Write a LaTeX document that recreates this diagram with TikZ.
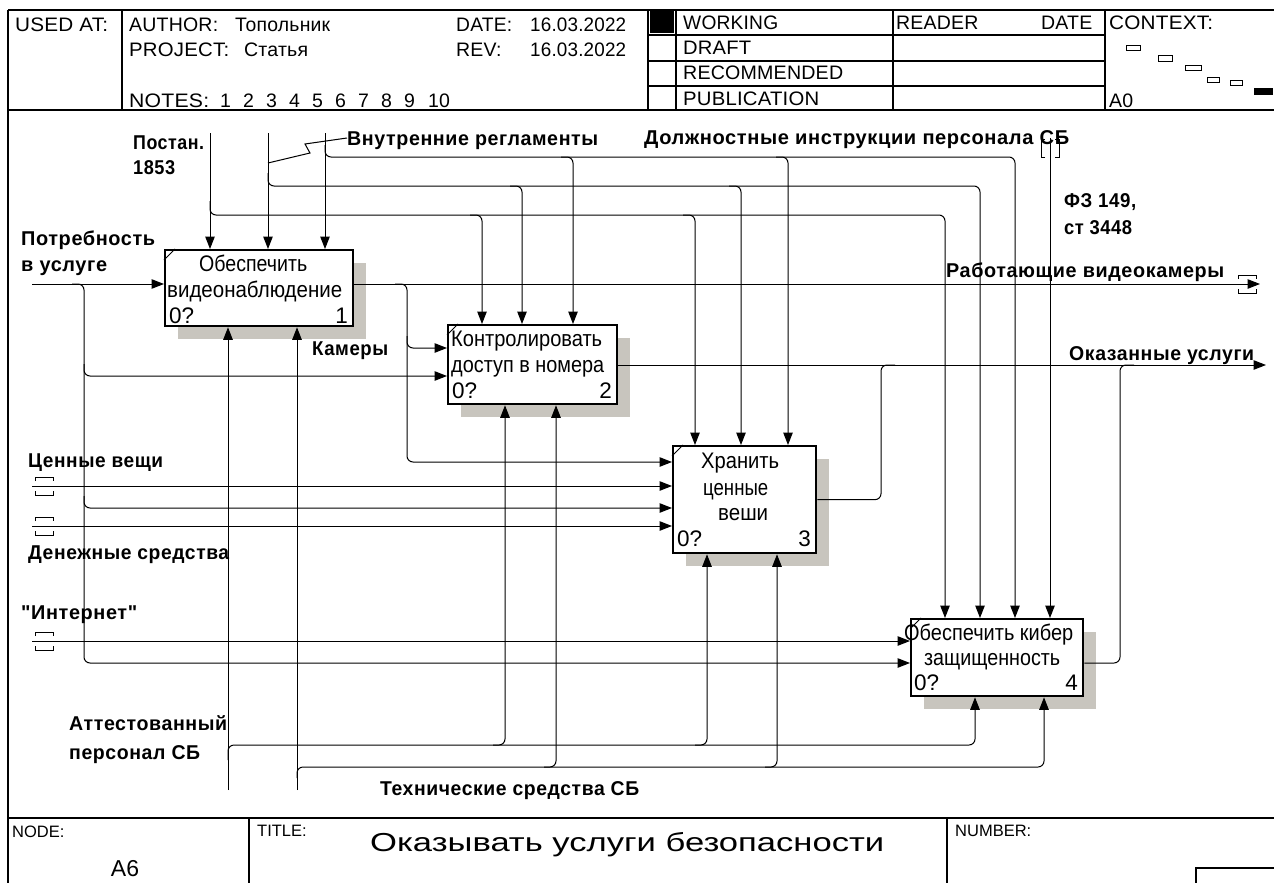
\documentclass[tikz,border=0pt]{standalone}
\usepackage{fontspec}
\usepackage{graphicx}
\setmainfont{Liberation Sans}
\newfontfamily\lblf{Liberation Sans}[LetterSpace=3]
\newfontfamily\hdrf{Liberation Sans}[LetterSpace=1]
\usetikzlibrary{arrows.meta,calc,shadows}
\definecolor{shadc}{RGB}{200,197,190}
\newcommand\fw[2]{\resizebox{#1pt}{\height}{#2}}
\begin{document}
\begin{tikzpicture}[x=1pt,y=-1pt,
 lab/.style={font=\lblf\bfseries\fontsize{20}{22}\selectfont, anchor=west, inner sep=0pt, text height=14.3pt, text depth=0pt},
 btx/.style={font=\fontsize{22.5}{24}\selectfont, anchor=west, inner sep=0pt, text height=16pt, text depth=0pt},
 hdt/.style={font=\hdrf\fontsize{19.5}{21}\selectfont, anchor=west, inner sep=0pt, text height=14pt, text depth=0pt},
 ftx/.style={font=\fontsize{16.5}{18}\selectfont, anchor=west, inner sep=0pt, text height=11.8pt, text depth=0pt},
 arr/.style={line width=1pt, rounded corners=6pt, -{Triangle[length=12.5pt,width=9.5pt]}},
 ln/.style={line width=1pt, rounded corners=6pt},
 fbox/.style={draw, line width=2.3pt, fill=white, anchor=north west, inner sep=0pt,
   drop shadow={shadow xshift=13pt, shadow yshift=-13pt, fill=shadc, opacity=1}},
 frm/.style={line width=1.3pt},
 tun/.pic={\draw[line width=1pt] (-9,-5) -- (-9,-9) -- (9,-9) -- (9,-5);
           \draw[line width=1pt] (-9,5) -- (-9,9) -- (9,9) -- (9,5);}
]
\useasboundingbox (0,0) rectangle (1274,883);

% ---------------- header ----------------
\draw[frm] (8,10) -- (1274,10);
\draw[frm] (8,10) -- (8,883);
\draw[frm] (8,110) -- (1274,110);
\draw[frm] (122,10) -- (122,110);
\draw[frm] (648,10) -- (648,110);
\draw[frm] (676,10) -- (676,110);
\draw[frm] (893,10) -- (893,110);
\draw[frm] (1105,10) -- (1105,110);
\draw[frm] (648,35) -- (1105,35);
\draw[frm] (648,61) -- (1105,61);
\draw[frm] (648,86) -- (1105,86);
\fill (650,10) rectangle (674,33);

\node[hdt] (usedat) at (15,25) {\fw{93}{USED AT:}};
\node[hdt] (author) at (129,25) {\fw{89}{AUTHOR:}};
\node[hdt] (authorv) at (235,25) {\fw{95}{Топольник}};
\node[hdt] (project) at (129,50) {\fw{100}{PROJECT:}};
\node[hdt] (projectv) at (244,50) {\fw{64}{Статья}};
\node[hdt] (date) at (456,25) {\fw{56}{DATE:}};
\node[hdt] (datev) at (530,25) {\fw{96}{16.03.2022}};
\node[hdt] (rev) at (456,50) {REV:};
\node[hdt] (revv) at (530,50) {\fw{96}{16.03.2022}};
\node[hdt] (notes) at (129,100) {\fw{80}{NOTES:}};
\foreach \n/\xx in {1/220,2/243,3/266,4/289,5/312,6/335,7/358,8/381,9/404,10/428}
  \node[hdt] (note\n) at (\xx,100) {\n};
\node[hdt] (working) at (683,23) {\fw{95}{WORKING}};
\node[hdt] (draft) at (683,48) {\fw{68}{DRAFT}};
\node[hdt] (recom) at (683,73) {\fw{160}{RECOMMENDED}};
\node[hdt] (publ) at (683,99) {\fw{136}{PUBLICATION}};
\node[hdt] (reader) at (896,23) {READER};
\node[hdt] (rdate) at (1041,23) {DATE};
\node[hdt] (context) at (1109,23) {\fw{104}{CONTEXT:}};
\node[hdt] (azero) at (1109,100) {A0};
\draw[line width=0.9pt] (1126,45) rectangle (1140,50);
\draw[line width=0.9pt] (1158,55) rectangle (1172,61);
\draw[line width=0.9pt] (1185,65) rectangle (1201,70);
\draw[line width=0.9pt] (1207,77) rectangle (1219,82);
\draw[line width=0.9pt] (1230,80) rectangle (1242,85);
\fill (1254,88) rectangle (1273,95);

% ---------------- footer ----------------
\draw[line width=2pt] (8,818) -- (1274,818);
\draw[frm] (249,818) -- (249,883);
\draw[frm] (947,818) -- (947,883);
\draw[frm] (1196,883) -- (1196,868) -- (1274,868);
\node[ftx] (node) at (12,832) {NODE:};
\node[font=\fontsize{23}{25}\selectfont, inner sep=0pt, text height=16.5pt, text depth=0pt] (nodev) at (125,868) {A6};
\node[ftx] (title) at (257,831) {TITLE:};
\node[font=\fontsize{26}{28}\selectfont, anchor=west, inner sep=0pt, text height=19pt, text depth=0pt] (titlev) at (370,842) {\fw{514}{Оказывать услуги безопасности}};
\node[ftx] (number) at (955,831) {NUMBER:};

% ---------------- boxes ----------------
\node[fbox, minimum width=188pt, minimum height=76pt] (b1) at (164,249) {};
\node[fbox, minimum width=169pt, minimum height=79pt] (b2) at (447,324) {};
\node[fbox, minimum width=143pt, minimum height=107pt] (b3) at (672,445) {};
\node[fbox, minimum width=172pt, minimum height=77pt] (b4) at (910,618) {};
\foreach \b in {b1,b2,b3,b4}
  \draw[line width=1pt] ($(\b.north west)+(0,11)$) -- ($(\b.north west)+(11,0)$);

\node[btx] (b1a) at (199,263) {\fw{108}{Обеспечить}};
\node[btx] (b1b) at (167,289) {\fw{175}{видеонаблюдение}};
\node[btx] (b1n) at (169,315) {0?};
\node[btx,anchor=east] (b1k) at (348,315) {1};

\node[btx] (b2a) at (451,338) {\fw{151}{Контролировать}};
\node[btx] (b2b) at (451,364) {\fw{153}{доступ в номера}};
\node[btx] (b2n) at (452,390) {0?};
\node[btx,anchor=east] (b2k) at (612,390) {2};

\node[btx] (b3a) at (701,460) {\fw{78}{Хранить}};
\node[btx] (b3b) at (703,487) {\fw{65}{ценные}};
\node[btx] (b3c) at (718,512) {\fw{50}{веши}};
\node[btx] (b3n) at (677,538) {0?};
\node[btx,anchor=east] (b3k) at (811,538) {3};

\node[btx] (b4a) at (904,632) {\fw{169}{Обеспечить кибер}};
\node[btx] (b4b) at (924,657) {\fw{136}{защищенность}};
\node[btx] (b4n) at (914,682) {0?};
\node[btx,anchor=east] (b4k) at (1078,682) {4};

% ---------------- labels ----------------
\node[lab] (lpost) at (133,142) {\fw{71}{Постан.}};
\node[lab] (lpost2) at (133,167) {\fw{42}{1853}};
\node[lab] (lreg) at (347,138) {\fw{251}{Внутренние регламенты}};
\node[lab] (ldol) at (644,137) {\fw{425}{Должностные инструкции персонала СБ}};
\node[lab] (lfz) at (1064,200) {\fw{72}{ФЗ 149,}};
\node[lab] (lfz2) at (1064,227) {\fw{68}{ст 3448}};
\node[lab] (lneed) at (21,238) {\fw{134}{Потребность}};
\node[lab] (lneed2) at (21,264) {\fw{86}{в услуге}};
\node[lab] (lcam) at (946,270) {\fw{278}{Работающие видеокамеры}};
\node[lab] (lcamr) at (312,348) {\fw{76}{Камеры}};
\node[lab] (lserv) at (1069,353) {\fw{185}{Оказанные услуги}};
\node[lab] (lval) at (28,460) {\fw{135}{Ценные вещи}};
\node[lab] (lmon) at (28,552) {\fw{201}{Денежные средства}};
\node[lab] (lnet) at (21,612) {\fw{116}{"Интернет"}};
\node[lab] (latt) at (69,723) {\fw{158}{Аттестованный}};
\node[lab] (latt2) at (69,752) {\fw{131}{персонал СБ}};
\node[lab] (ltech) at (380,788) {\fw{259}{Технические средства СБ}};

% ---------------- coordinates ----------------
\coordinate (c1) at (210,133);
\coordinate (c2) at (268,133);
\coordinate (c3) at (325,133);
\coordinate (c4) at (1050,138);
\coordinate (k21) at (482,215);
\coordinate (k31) at (695,215);
\coordinate (k41) at (945,215);
\coordinate (k22) at (522,186);
\coordinate (k32) at (741,186);
\coordinate (k42) at (980,186);
\coordinate (k23) at (573,157);
\coordinate (k33) at (788,157);
\coordinate (k43) at (1015,157);
\coordinate (i1) at (32,284);
\coordinate (v1) at (84,663);
\coordinate (j2) at (84,376);
\coordinate (j3) at (84,508);
\coordinate (o1) at (1260,284);
\coordinate (q1) at (407,462);
\coordinate (q2) at (407,348);
\coordinate (t1) at (32,486);
\coordinate (t2) at (32,526);
\coordinate (t3) at (32,641);
\coordinate (o2) at (1266,365);
\coordinate (r3) at (881,365);
\coordinate (r4) at (1120,365);
\coordinate (m1) at (228,790);
\coordinate (m2) at (297,790);
\coordinate (n21) at (505,745);
\coordinate (n31) at (707,745);
\coordinate (n41) at (975,745);
\coordinate (n22) at (556,767);
\coordinate (n32) at (777,767);
\coordinate (n42) at (1044,767);

% ---------------- controls ----------------
\draw[arr] (c1) -- (c1 |- b1.north);
\draw[arr] (c2) -- (c2 |- b1.north);
\draw[arr] (c3) -- (c3 |- b1.north);
\draw[arr] ($(c1)+(0,68)$) |- (k41) -- (k41 |- b4.north);
\draw[arr] ($(c2)+(0,40)$) |- (k42) -- (k42 |- b4.north);
\draw[arr] ($(c3)+(0,12)$) |- (k43) -- (k43 |- b4.north);
\draw[arr] ($(k21)-(12,0)$) -| (k21 |- b2.north);
\draw[arr] ($(k31)-(12,0)$) -| (k31 |- b3.north);
\draw[arr] ($(k22)-(12,0)$) -| (k22 |- b2.north);
\draw[arr] ($(k32)-(12,0)$) -| (k32 |- b3.north);
\draw[arr] ($(k23)-(12,0)$) -| (k23 |- b2.north);
\draw[arr] ($(k33)-(12,0)$) -| (k33 |- b3.north);
\draw[arr] (c4) -- (c4 |- b4.north);
\pic[rotate=90] at ($(c4)+(0,10)$) {tun};
\draw[line width=1pt] ($(c2)+(0,30)$) -- (310,153) -- (305,144) -- (lreg.west);

% ---------------- inputs ----------------
\draw[arr] (i1) -- (i1 -| b1.west);
\draw[arr] ($(i1)+(40,0)$) -| (v1) -- (v1 -| b4.west);
\draw[arr] ($(j2)-(0,12)$) |- (j2 -| b2.west);
\draw[arr] ($(j3)-(0,12)$) |- (j3 -| b3.west);
\draw[arr] (t1) -- (t1 -| b3.west);
\draw[arr] (t2) -- (t2 -| b3.west);
\draw[arr] (t3) -- (t3 -| b4.west);
\pic at ($(t1)+(12,0)$) {tun};
\pic at ($(t2)+(12,0)$) {tun};
\pic at ($(t3)+(12,0)$) {tun};

% ---------------- outputs ----------------
\draw[arr] (b1.east |- o1) -- (o1);
\pic at ($(o1)-(13,0)$) {tun};
\draw[arr] ($(q1 |- o1)-(12,0)$) -| (q1) -- (q1 -| b3.west);
\draw[arr] ($(q2)-(0,12)$) |- (q2 -| b2.west);
\draw[arr] (b2.east |- o2) -- (o2);
\draw[ln] (b3.east) -| (r3) -- ++(14,0);
\draw[ln] (b4.east |- v1) -| (r4) -- ++(14,0);

% ---------------- mechanisms ----------------
\draw[arr] (m1) -- (m1 |- b1.south);
\draw[arr] (m2) -- (m2 |- b1.south);
\draw[arr] ($(m1)-(0,30)$) |- (n41) -- (n41 |- b4.south);
\draw[arr] ($(m2)-(0,12)$) |- (n42) -- (n42 |- b4.south);
\draw[arr] ($(n21)-(12,0)$) -| (n21 |- b2.south);
\draw[arr] ($(n31)-(12,0)$) -| (n31 |- b3.south);
\draw[arr] ($(n22)-(12,0)$) -| (n22 |- b2.south);
\draw[arr] ($(n32)-(12,0)$) -| (n32 |- b3.south);
\end{tikzpicture}
\end{document}
